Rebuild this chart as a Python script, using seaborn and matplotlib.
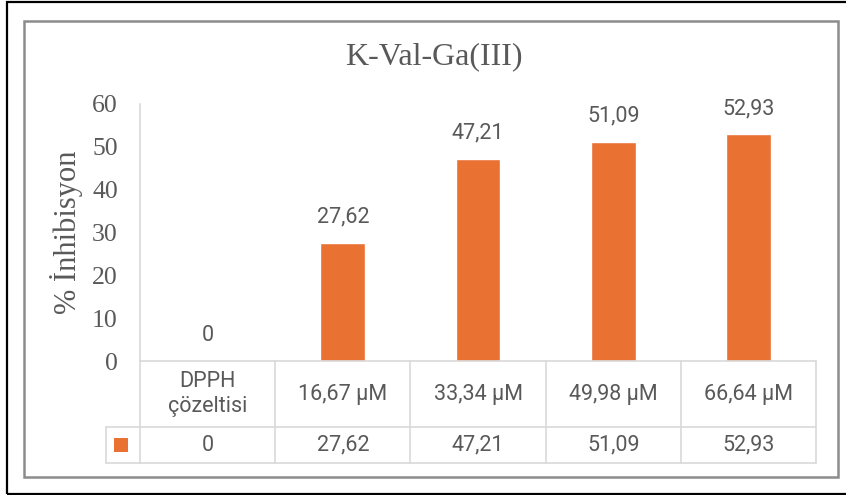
import matplotlib
matplotlib.use("Agg")
import matplotlib.pyplot as plt
import seaborn as sns
import pandas as pd
from matplotlib.patches import Rectangle

# ---- veriler ----
kategoriler = ["DPPH\nçözeltisi", "16,67 µM", "33,34 µM", "49,98 µM", "66,64 µM"]
inhibisyon = [0, 27.62, 47.21, 51.09, 52.93]
y_ticks = [0, 10, 20, 30, 40, 50, 60]
baslik = "K-Val-Ga(III)"
y_etiket = "% İnhibisyon"

turuncu = "#E97132"
gri_yazi = "#595959"
tablo_cizgi = "#D9D9D9"
SANS = "Roboto"
SERIF = "Liberation Serif"


def fmt(v):
    return f"{v:g}".replace(".", ",")


sns.set_style("white")
plt.rcParams["font.family"] = [SERIF, "DejaVu Serif"]

df = pd.DataFrame({"kategori": kategoriler, "deger": inhibisyon})

fig = plt.figure(figsize=(8.46, 4.95), dpi=100)
W, H = 846, 495
ax = fig.add_axes([140 / W, 1 - 361 / H, 676 / W, 257 / H])

sns.barplot(data=df, x="kategori", y="deger", order=kategoriler, color=turuncu,
            saturation=1, width=0.33, errorbar=None, ax=ax)

ax.set_ylim(0, 60)
ax.set_xlim(-0.5, len(kategoriler) - 0.5)
ax.set_yticks(y_ticks)
ax.set_yticklabels([str(t) for t in y_ticks])
ax.tick_params(axis="y", length=0, pad=16, labelsize=18.5, labelcolor=gri_yazi)
ax.set_xticks([])
ax.set_xlabel("")
ax.set_ylabel(y_etiket, fontsize=22, color=gri_yazi)
ax.yaxis.set_label_coords(-0.085, 0.5)

for s in ["top", "right"]:
    ax.spines[s].set_visible(False)
ax.spines["left"].set_color(tablo_cizgi)
ax.spines["left"].set_linewidth(1.2)
ax.spines["bottom"].set_color(tablo_cizgi)
ax.spines["bottom"].set_linewidth(1.2)

# veri etiketleri
ax.bar_label(ax.containers[0], labels=[fmt(v) for v in inhibisyon], padding=11,
             fontsize=15.5, color=gri_yazi, family=SANS)

# ---- veri tablosu ----
tr = ax.get_xaxis_transform()
satir1, satir2 = -0.257, -0.397
n = len(kategoriler)
cz = dict(color=tablo_cizgi, lw=1.2, transform=tr, clip_on=False)
for k in range(n + 1):
    ax.plot([k - 0.5, k - 0.5], [0, satir2], **cz)
ax.plot([-0.75, n - 0.5], [satir1, satir1], **cz)
ax.plot([-0.75, n - 0.5], [satir2, satir2], **cz)
ax.plot([-0.75, -0.75], [satir1, satir2], **cz)

for i, (kat, v) in enumerate(zip(kategoriler, inhibisyon)):
    ax.text(i, satir1 / 2, kat, ha="center", va="center", transform=tr,
            fontsize=15.5, color=gri_yazi, family=SANS, linespacing=1.3)
    ax.text(i, (satir1 + satir2) / 2, fmt(v), ha="center", va="center",
            transform=tr, fontsize=15.5, color=gri_yazi, family=SANS)

ax.scatter([-0.644], [(satir1 + satir2) / 2], marker="s", s=100, color=turuncu,
           transform=tr, clip_on=False, linewidths=0)

# başlık
fig.text(434 / W, 1 - 57 / H, baslik, ha="center", va="center",
         fontsize=23, color=gri_yazi)

# çerçeveler
fig.patches.append(Rectangle((24 / W, 1 - 477 / H), 814 / W, 456 / H,
                             transform=fig.transFigure, fill=False,
                             edgecolor="#8C8C8C", lw=1.8))
fig.patches.append(Rectangle((7 / W, 1 - 494 / H), 845 / W, 492 / H,
                             transform=fig.transFigure, fill=False,
                             edgecolor="black", lw=1.6))

fig.savefig("out.png", dpi=100)
